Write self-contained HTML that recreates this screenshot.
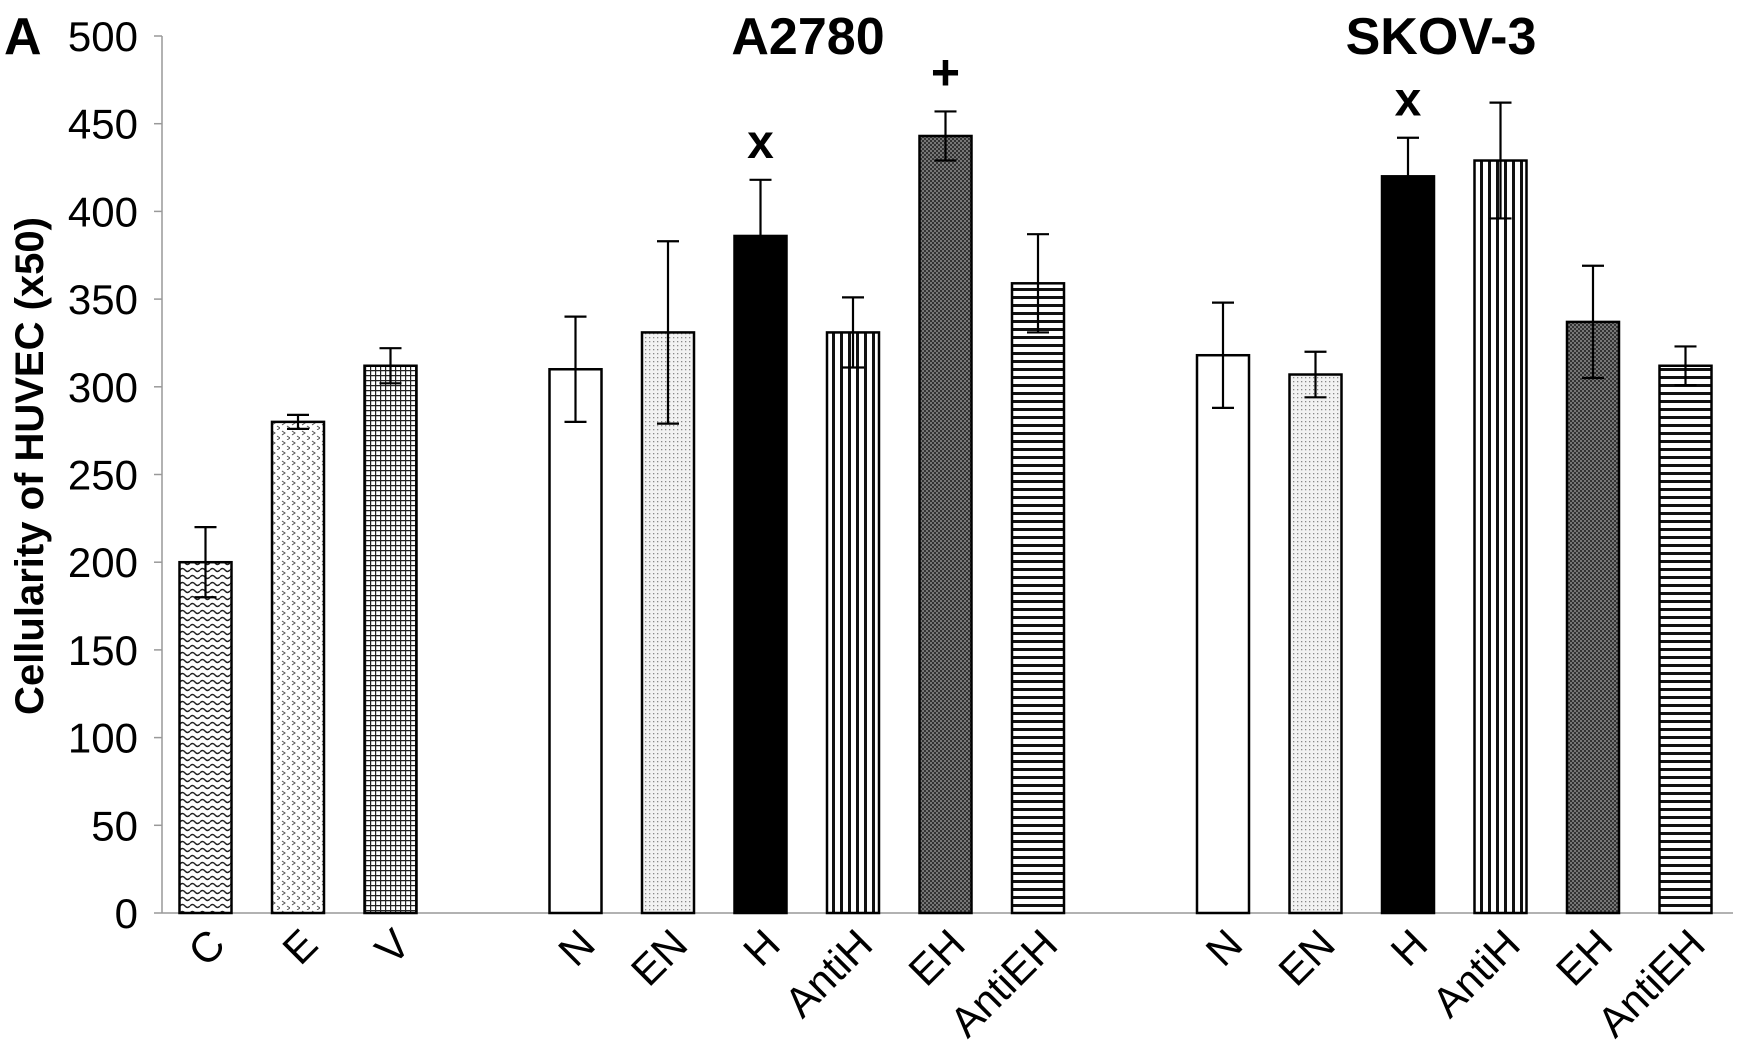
<!DOCTYPE html>
<html><head><meta charset="utf-8">
<style>
html,body{margin:0;padding:0;background:#fff;}
svg{display:block;}
text{font-family:"Liberation Sans",sans-serif;}
</style></head>
<body>
<svg id="chart" width="1739" height="1057" viewBox="0 0 1739 1057" xmlns="http://www.w3.org/2000/svg">
<defs>
  <pattern id="p-wave" width="10" height="7" patternUnits="userSpaceOnUse"><rect width="10" height="7" fill="#fff"/><path d="M0 3 Q2.5 0 5 3 T10 3" stroke="#222" stroke-width="1.4" fill="none"/></pattern>
  <pattern id="p-zig" width="10" height="10" patternUnits="userSpaceOnUse"><rect width="10" height="10" fill="#fff"/><path d="M2 1 L5 3 L2 5 M7 6 L10 8 L7 10" stroke="#555" stroke-width="1" fill="none"/></pattern>
  <pattern id="p-grid" width="5" height="5" patternUnits="userSpaceOnUse"><rect width="5" height="5" fill="#fff"/><path d="M0 0.5 H5 M0.5 0 V5" stroke="#222" stroke-width="1.4"/></pattern>
  <pattern id="p-dots" width="4" height="4" patternUnits="userSpaceOnUse"><rect width="4" height="4" fill="#f2f2f2"/><rect x="1" y="1" width="1.3" height="1.3" fill="#888"/></pattern>
  <pattern id="p-vert" width="8" height="8" patternUnits="userSpaceOnUse"><rect width="8" height="8" fill="#fff"/><rect x="0" width="3" height="8" fill="#111"/></pattern>
  <pattern id="p-check" width="4" height="4" patternUnits="userSpaceOnUse"><rect width="4" height="4" fill="#333"/><rect x="0" y="0" width="2" height="2" fill="#777"/><rect x="2" y="2" width="2" height="2" fill="#777"/></pattern>
  <pattern id="p-horiz" width="8" height="8" patternUnits="userSpaceOnUse"><rect width="8" height="8" fill="#fff"/><rect y="0" width="8" height="3" fill="#111"/></pattern>
</defs>
<g id="axes"></g>
<g id="bars"></g>
<text x="4" y="54" font-size="52" font-weight="bold">A</text>
<text x="808" y="54" font-size="52" font-weight="bold" text-anchor="middle">A2780</text>
<text x="1441" y="54" font-size="52" font-weight="bold" text-anchor="middle">SKOV-3</text>
<text transform="translate(43,466) rotate(-90)" font-size="40" font-weight="bold" text-anchor="middle">Cellularity of HUVEC (x50)</text>
</svg>
<script>
const categories = ["C","E","V","N","EN","H","AntiH","EH","AntiEH","N","EN","H","AntiH","EH","AntiEH"];
const slots = [0,1,2,4,5,6,7,8,9,11,12,13,14,15,16];
const values = [200,280,312,310,331,386,331,443,359,318,307,420,429,337,312];
const errors = [20,4,10,30,52,32,20,14,28,30,13,22,33,32,11];
const fills = ["p-wave","p-zig","p-grid","#fff","p-dots","#000","p-vert","p-check","p-horiz","#fff","p-dots","#000","p-vert","p-check","p-horiz"];
const yTicks = [0,50,100,150,200,250,300,350,400,450,500];
const markers = [{i:5,t:"x"},{i:7,t:"+"},{i:11,t:"x"}];

const NS="http://www.w3.org/2000/svg";
const y0=913, yTop=36, axisX=162, axisEnd=1733;
const yScale=v=>y0-(v/500)*(y0-yTop);
const xScale=s=>205.5+s*92.5;
const barW=52;
function mk(tag,attrs,parent){const e=document.createElementNS(NS,tag);for(const k in attrs)e.setAttribute(k,attrs[k]);parent.appendChild(e);return e;}
const axes=document.getElementById('axes'), bars=document.getElementById('bars');

let yl=mk('line',{x1:axisX,y1:yTop,x2:axisX,y2:y0,stroke:'#999','stroke-width':1.5},axes);


let xl=mk('line',{x1:axisX,y1:y0,x2:axisEnd,y2:y0,stroke:'#999','stroke-width':1.5},axes);


yTicks.forEach(v=>{
  const y=yScale(v);
  const t=mk('line',{x1:axisX-8,y1:y,x2:axisX,y2:y,stroke:'#999','stroke-width':1.5},axes);
  
  
  const l=mk('text',{x:axisX-24,y:y+15,'font-size':42,'text-anchor':'end'},axes);
  l.textContent=v;
  
  
});
categories.forEach((c,i)=>{
  const cx=xScale(slots[i]), yv=yScale(values[i]);
  const f=fills[i].startsWith('p-')?`url(#${fills[i]})`:fills[i];
  const r=mk('rect',{x:cx-barW/2,y:yv,width:barW,height:y0-yv,fill:f,stroke:'#000','stroke-width':2.5},bars);
  
  
  const eTop=yScale(values[i]+errors[i]), eBot=yScale(values[i]-errors[i]);
  const g=mk('g',{stroke:'#000','stroke-width':2.2},bars);
  
  
  mk('line',{x1:cx,y1:eTop,x2:cx,y2:eBot},g);
  mk('line',{x1:cx-11,y1:eTop,x2:cx+11,y2:eTop},g);
  mk('line',{x1:cx-11,y1:eBot,x2:cx+11,y2:eBot},g);
  const lab=mk('text',{transform:`translate(${cx+22},${y0+34}) rotate(-45)`,'font-size':42,'text-anchor':'end'},axes);
  lab.textContent=c;
  
  
});
markers.forEach(m=>{
  const cx=xScale(slots[m.i]);
  const eTop=yScale(values[m.i]+errors[m.i]);
  const t=mk('text',{x:cx,y:eTop-22,'font-size':m.t==='+'?50:48,'font-weight':'bold','text-anchor':'middle'},axes);
  t.textContent=m.t;
  
  
});
</script>
</body></html>
